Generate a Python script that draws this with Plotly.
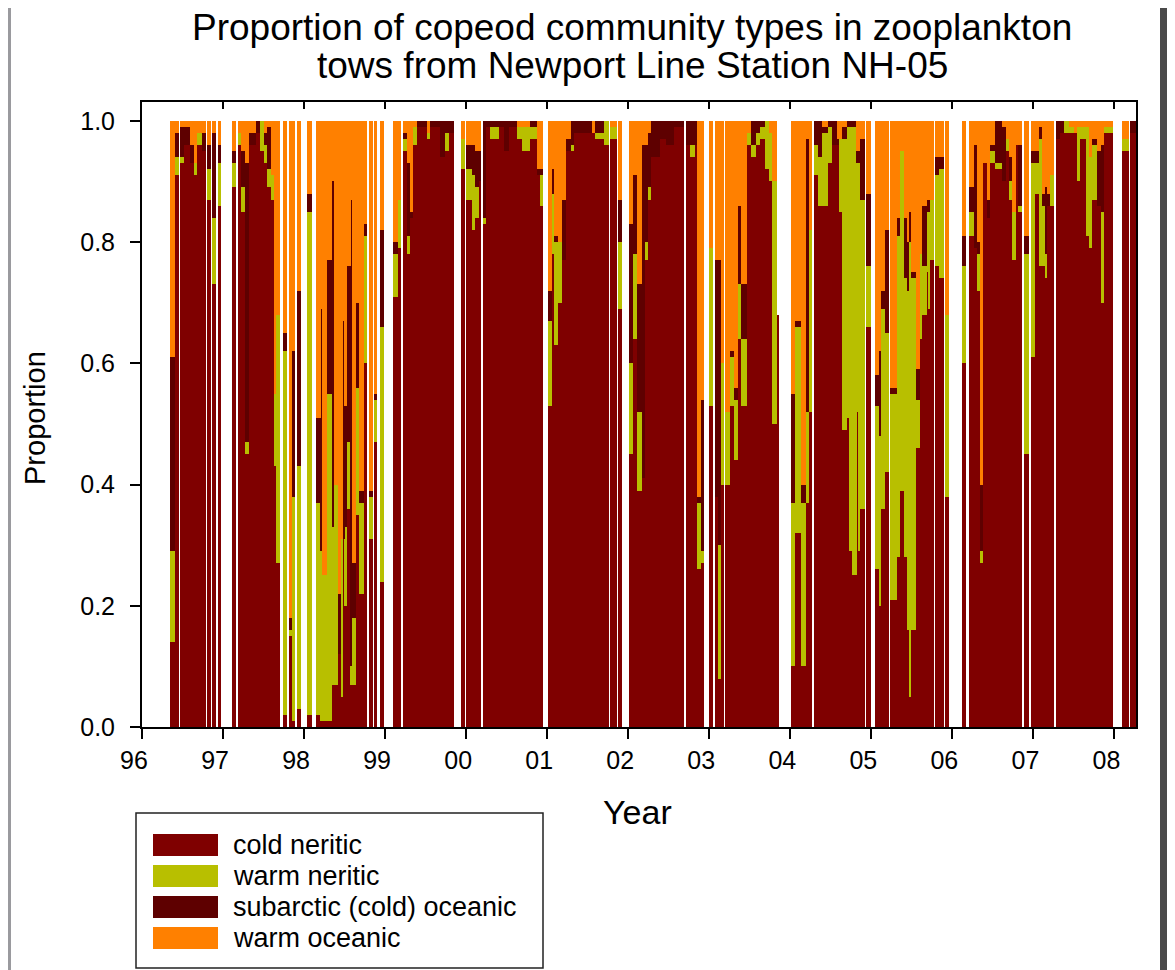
import plotly.graph_objects as go

# sample intervals in years since 1 Jan 1996: interval i runs from t[i] to t[i+1]
sample_t = [
    0.343, 0.405, 0.459, 0.466, 0.516, 0.590, 0.639, 0.681, 0.743, 0.792,
    0.805, 0.854, 0.866, 0.919, 0.935, 0.977, 1.113, 1.166, 1.182, 1.224,
    1.277, 1.318, 1.401, 1.462, 1.503, 1.545, 1.586, 1.626, 1.656, 1.700,
    1.742, 1.792, 1.811, 1.853, 1.894, 1.907, 1.965, 2.039, 2.100, 2.141,
    2.203, 2.224, 2.285, 2.347, 2.375, 2.416, 2.458, 2.483, 2.503, 2.524,
    2.573, 2.594, 2.635, 2.675, 2.737, 2.779, 2.799, 2.848, 2.860, 2.902,
    2.934, 2.984, 3.100, 3.157, 3.199, 3.215, 3.264, 3.305, 3.347, 3.396,
    3.519, 3.560, 3.683, 3.745, 3.786, 3.856, 3.939, 3.980, 4.004, 4.078,
    4.115, 4.156, 4.186, 4.202, 4.251, 4.300, 4.403, 4.465, 4.526, 4.630,
    4.692, 4.782, 4.877, 4.909, 4.951, 5.008, 5.062, 5.090, 5.131, 5.185,
    5.226, 5.288, 5.328, 5.555, 5.596, 5.699, 5.760, 5.781, 5.864, 5.876,
    5.926, 6.007, 6.061, 6.111, 6.164, 6.213, 6.238, 6.275, 6.398, 6.460,
    6.562, 6.686, 6.719, 6.768, 6.818, 6.851, 6.892, 6.933, 6.991, 7.049,
    7.065, 7.105, 7.147, 7.179, 7.192, 7.253, 7.303, 7.352, 7.386, 7.460,
    7.468, 7.509, 7.571, 7.632, 7.682, 7.735, 7.777, 7.838, 7.858, 8.011,
    8.064, 8.126, 8.138, 8.188, 8.228, 8.270, 8.290, 8.340, 8.394, 8.463,
    8.517, 8.579, 8.607, 8.640, 8.702, 8.722, 8.764, 8.817, 8.833, 8.866,
    8.916, 8.940, 8.990, 9.043, 9.092, 9.122, 9.166, 9.215, 9.228, 9.311,
    9.351, 9.401, 9.443, 9.462, 9.492, 9.545, 9.598, 9.628, 9.681, 9.709,
    9.730, 9.771, 9.783, 9.833, 9.841, 9.894, 9.903, 9.956, 10.113, 10.162,
    10.203, 10.264, 10.298, 10.335, 10.380, 10.430, 10.470, 10.532, 10.615, 10.656,
    10.696, 10.738, 10.779, 10.807, 10.862, 10.881, 10.943, 10.973, 11.017, 11.066,
    11.108, 11.137, 11.162, 11.202, 11.260, 11.273, 11.334, 11.375, 11.437, 11.498,
    11.540, 11.581, 11.643, 11.684, 11.726, 11.787, 11.828, 11.877, 11.985, 12.096,
    12.177, 12.198, 12.260,
]

# proportions per interval (None = no tow in that interval)
cold_neritic = [
    .14, .91, None, .93, .96, .93, .91, .96, .95, None,
    .87, None, .73, None, .86, None, .89, None, .96, .85,
    .45, .96, .98, .95, .93, .89, .87, .43, .27, None,
    .02, None, .15, .01, None, .03, None, .02, None, .02,
    .01, .01, .01, .07, .07, .12, .05, .31, .20, .36,
    .07, .07, .35, .22, .60, None, .31, None, .47, None,
    .24, None, .71, .79, None, .95, .78, .84, .96, .99,
    .97, .99, .94, .95, .98, None, .92, None, .87, .82,
    .84, .90, None, .83, .99, .97, .99, .95, .99, .97,
    .95, .97, .91, .86, None, .53, .78, .63, .70, .77,
    .95, .95, .98, .98, .97, .96, None, .97, None, .69,
    None, .45, .64, .39, .41, .77, .87, .94, .97, .96,
    .99, None, .96, .94, .96, .26, .27, None, .53, None,
    .38, .08, .40, None, .40, .53, .44, .64, .53, None,
    .96, .94, .96, .97, .92, .90, .50, .68, None, .10,
    .32, None, .10, .37, .52, None, .91, .86, .86, .93,
    .96, .96, .85, .49, .51, .29, .25, .52, .29, .36,
    None, .66, None, .26, .20, .36, .42, None, .21, .28,
    .39, .28, .16, .05, .16, .46, .64, .68, .75, .69,
    .77, None, .76, None, .74, None, .38, None, .60, None,
    .81, .79, .72, .27, .93, .84, .93, .92, .90, .95,
    .87, .77, .96, .85, None, .45, None, .61, .88, .76,
    .76, .74, .86, .86, None, .97, .98, .98, .98, .98,
    .90, .97, .81, .79, .87, .86, .70, .98, None, .95,
    None, .98,
]

warm_neritic = [
    .15, .03, None, .01, 0, 0, .02, .02, 0, None,
    .05, None, .11, None, .07, None, .04, None, .02, .04,
    .02, 0, 0, .05, .03, .03, .04, .12, .41, None,
    .60, None, .01, .37, None, .40, None, .83, None, .35,
    .28, .24, .54, .26, .33, 0, .26, 0, .13, .11,
    .03, .11, .21, .15, .21, None, .07, None, .07, None,
    .42, None, .07, .08, None, .02, .03, 0, .03, 0,
    .01, 0, 0, .03, 0, None, .05, None, .05, .09,
    .05, 0, None, .01, 0, .02, 0, 0, 0, .02,
    .04, .02, 0, .05, None, .14, .10, .17, .10, 0,
    0, .01, 0, 0, .01, .04, None, .02, None, .11,
    None, .15, .14, .13, 0, .03, .02, 0, 0, 0,
    0, None, 0, .02, 0, .11, .02, None, .26, None,
    0, .22, .20, None, .12, .08, .10, .09, .11, None,
    .02, .02, .02, .02, .08, .08, .40, 0, None, .27,
    .34, None, .27, .15, .30, None, .05, .08, .12, .06,
    0, 0, .12, .48, .48, .70, .74, .41, .64, .51,
    None, .10, None, .27, .28, .33, .23, None, .34, .53,
    .56, .46, .56, .75, .58, .08, .14, .08, .10, .16,
    .10, None, .15, None, .18, None, .30, None, .16, None,
    .04, 0, .06, .02, 0, 0, .02, .01, 0, .02,
    .03, .08, 0, .01, None, .33, None, .32, .05, .21,
    .10, .04, 0, .05, None, 0, 0, .02, .01, 0,
    .09, .02, .18, .15, .09, 0, .15, .01, None, .02,
    None, 0,
]

subarctic_oceanic = [
    .32, .04, None, .05, .03, .03, 0, 0, .03, None,
    .04, None, .14, None, .03, None, .02, None, 0, .06,
    .46, .02, .02, 0, .02, .07, 0, 0, 0, None,
    .03, None, .02, .24, None, .29, None, .03, None, .14,
    .40, 0, .22, .57, 0, .10, 0, .36, .20, .29,
    .77, .09, .14, .02, .02, None, .01, None, .01, None,
    .16, None, .02, 0, None, .01, .12, .01, 0, .01,
    0, .01, .06, .02, .02, None, 0, None, .04, .05,
    .06, .05, None, .16, .01, .01, .01, .05, .01, 0,
    0, .01, .01, .01, None, .05, .04, .01, 0, .10,
    .02, .04, .02, 0, .02, 0, None, 0, None, .07,
    None, .23, .13, .21, .55, .16, .09, .06, .03, .04,
    .01, None, .04, .04, .04, .01, .25, None, 0, None,
    .39, .47, 0, None, 0, .01, .02, .13, .09, None,
    0, .04, .02, .01, 0, 0, 0, 0, None, .18,
    .01, None, .03, .45, 0, None, .04, .06, .01, .01,
    .04, .01, 0, .02, .01, .01, .01, .02, .02, .10,
    None, .12, None, .05, .14, .03, .17, None, .01, .03,
    0, .10, .08, .05, .01, .05, 0, .10, .02, .02,
    0, None, .03, None, .02, None, 0, None, .05, None,
    .04, .17, .02, .11, 0, .03, .01, .07, .09, 0,
    .04, 0, 0, .10, None, .03, None, .02, .02, .02,
    .02, .11, .02, 0, None, .03, .02, 0, 0, 0,
    0, 0, 0, 0, .01, .09, .11, 0, None, 0,
    None, .02,
]

warm_oceanic = [
    .39, .02, None, .01, .01, .04, .07, .02, .02, None,
    .04, None, .02, None, .04, None, .05, None, .02, .05,
    .07, .02, 0, 0, .02, .01, .09, .45, .32, None,
    .35, None, .82, .38, None, .28, None, .12, None, .49,
    .31, .75, .23, .10, .60, .78, .69, .33, .47, .24,
    .13, .73, .30, .61, .17, None, .61, None, .45, None,
    .18, None, .20, .13, None, .02, .07, .15, .01, 0,
    .02, 0, 0, 0, 0, None, .03, None, .04, .04,
    .05, .05, None, 0, 0, 0, 0, 0, 0, .01,
    .01, 0, .08, .08, None, .28, .08, .19, .20, .13,
    .03, 0, 0, .02, 0, 0, None, .01, None, .13,
    None, .17, .09, .27, .04, .04, .02, 0, 0, 0,
    0, None, 0, 0, 0, .62, .46, None, .21, None,
    .23, .23, .40, None, .48, .38, .44, .14, .27, None,
    .02, 0, 0, 0, 0, .02, .10, 0, None, .45,
    .33, None, .60, .03, .18, None, 0, 0, .01, 0,
    0, .03, .03, .01, 0, 0, 0, .05, .05, .03,
    None, .12, None, .42, .38, .28, .18, None, .44, .16,
    .05, .16, .20, .15, .25, .41, .22, .14, .13, .13,
    .13, None, .06, None, .06, None, .32, None, .19, None,
    .11, .04, .20, .60, .07, .13, .04, 0, .01, .03,
    .06, .15, .04, .04, None, .19, None, .05, .05, .01,
    .12, .11, .12, .09, None, 0, 0, 0, .01, .02,
    .01, .01, .01, .06, .03, .05, .04, .01, None, .03,
    None, 0,
]

year_ticks = list(range(1996, 2009))
year_labels = [str(y)[2:] for y in year_ticks]

series = [
    ("cold neritic", cold_neritic, "#7f0000"),
    ("warm neritic", warm_neritic, "#b8bf00"),
    ("subarctic (cold) oceanic", subarctic_oceanic, "#5e0000"),
    ("warm oceanic", warm_oceanic, "#ff8000"),
]

FONT = "Liberation Sans, Arial, sans-serif"

# bar centre and width for each interval that has a tow
starts = [1996 + t for t in sample_t[:-1]]
ends = [1996 + t for t in sample_t[1:]]
keep = [i for i, v in enumerate(cold_neritic) if v is not None]
xc = [(starts[i] + ends[i]) / 2 for i in keep]
wd = [ends[i] - starts[i] for i in keep]

fig = go.Figure()
for name, vals, col in series:
    fig.add_trace(
        go.Bar(
            x=xc,
            y=[vals[i] for i in keep],
            width=wd,
            name=name,
            marker=dict(color=col, line=dict(width=0)),
            showlegend=False,
        )
    )
# empty trace so the top (mirror) axis with inward ticks gets drawn
fig.add_trace(go.Scatter(x=[], y=[], xaxis="x2", showlegend=False, hoverinfo="skip"))

# the page puts the figure 8px in from the window corner
OFF = 8
FIG_W, FIG_H = 1175 - OFF, 970 - OFF
L, R, T, B = 142, 1136, 102, 727  # plot area in window pixels


def px(x):
    return (x - L) / (R - L)


def py(y):
    return (B - y) / (B - T)


shapes = [
    dict(type="rect", xref="paper", yref="paper", x0=px(1160), x1=px(1180), y0=py(980), y1=py(0),
         fillcolor="#4a4a4a", line_width=0, layer="below"),
    dict(type="rect", xref="paper", yref="paper", x0=px(0), x1=px(11), y0=py(980), y1=py(0),
         fillcolor="#9a9a9e", line_width=0, layer="below"),
    # legend box
    dict(type="rect", xref="paper", yref="paper", x0=px(136), x1=px(543), y0=py(968), y1=py(813),
         fillcolor="white", line=dict(color="#222222", width=1.5)),
]
annotations = [
    dict(text="Proportion of copeod community types in zooplankton", x=px(632), y=py(28),
         xref="paper", yref="paper", showarrow=False, xanchor="center", yanchor="middle",
         font=dict(family=FONT, size=37, color="black")),
    dict(text="tows from Newport Line Station NH-05", x=px(632), y=py(66),
         xref="paper", yref="paper", showarrow=False, xanchor="center", yanchor="middle",
         font=dict(family=FONT, size=37, color="black")),
    dict(text="Year", x=px(637), y=py(812), xref="paper", yref="paper", showarrow=False,
         xanchor="center", yanchor="middle", font=dict(family=FONT, size=34, color="black")),
    dict(text="Proportion", x=px(35), y=py(418), xref="paper", yref="paper", showarrow=False,
         xanchor="center", yanchor="middle", textangle=-90,
         font=dict(family=FONT, size=29, color="black")),
]
for k, (name, vals, col) in enumerate(series):
    yc = 845 + 31 * k
    shapes.append(
        dict(type="rect", xref="paper", yref="paper", x0=px(153), x1=px(218),
             y0=py(yc + 11), y1=py(yc - 11), fillcolor=col, line_width=0)
    )
    annotations.append(
        dict(text=name, x=px(231), y=py(yc), xref="paper", yref="paper", showarrow=False,
             xanchor="left", yanchor="middle", font=dict(family=FONT, size=27, color="black"))
    )

x_range = [1996, 2008.266]

fig.update_layout(
    width=FIG_W,
    height=FIG_H,
    margin=dict(l=L - OFF, r=FIG_W - (R - OFF), t=T - OFF, b=FIG_H - (B - OFF)),
    barmode="stack",
    bargap=0,
    paper_bgcolor="white",
    plot_bgcolor="white",
    xaxis=dict(
        range=x_range,
        tickvals=year_ticks,
        ticktext=year_labels,
        ticks="outside",
        ticklen=10,
        tickwidth=2,
        tickcolor="black",
        ticklabelstandoff=0,
        ticklabelshift=-8,
        showline=True,
        linecolor="black",
        linewidth=2,
        mirror=True,
        showgrid=False,
        zeroline=False,
        tickfont=dict(family=FONT, size=25, color="black"),
    ),
    xaxis2=dict(
        range=x_range,
        overlaying="x",
        side="top",
        tickvals=year_ticks,
        ticks="inside",
        ticklen=7,
        tickwidth=2,
        tickcolor="black",
        showticklabels=False,
        showline=False,
        showgrid=False,
        zeroline=False,
    ),
    yaxis=dict(
        range=[0, 1.031],
        tickvals=[0, 0.2, 0.4, 0.6, 0.8, 1.0],
        tickformat=".1f",
        ticks="outside",
        ticklen=10,
        tickwidth=2,
        tickcolor="black",
        ticklabelstandoff=10,
        showline=True,
        linecolor="black",
        linewidth=2,
        mirror=True,
        showgrid=False,
        zeroline=False,
        tickfont=dict(family=FONT, size=25, color="black"),
    ),
    shapes=shapes,
    annotations=annotations,
)

fig.write_html("out.html")
